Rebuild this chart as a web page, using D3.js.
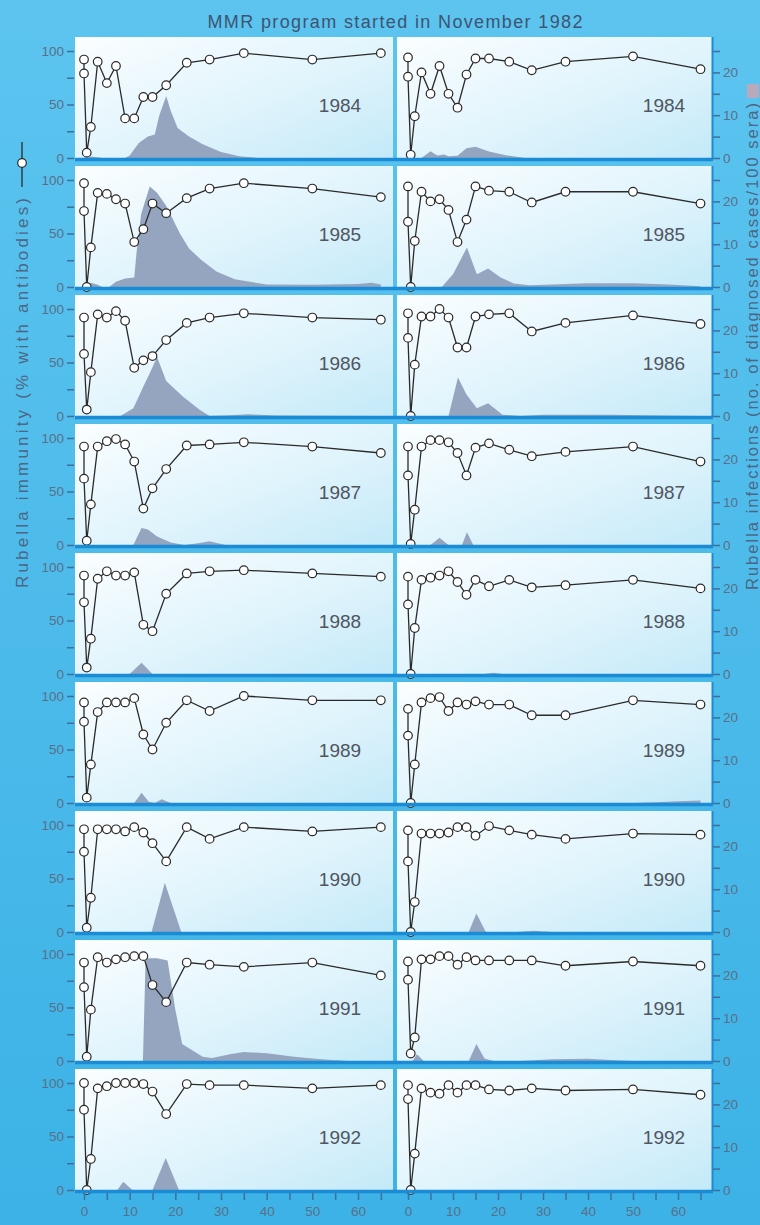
<!DOCTYPE html>
<html>
<head>
<meta charset="utf-8">
<script src="https://cdn.jsdelivr.net/npm/d3@7"></script>
<style>
body { margin: 0; background: #44b6e7; }
svg { display: block; }
text { font-family: "Liberation Sans", Arial, sans-serif; }
</style>
</head>
<body>
<svg width="760" height="1225"></svg>
<script>
// survey years, one row of panels each
const years = [1984, 1985, 1986, 1987, 1988, 1989, 1990, 1991, 1992];

// age (years) of each immunity point
const ages = [0, 0, 0.6, 1.5, 3, 5, 7, 9, 11, 13, 15, 18, 22.5, 27.5, 35, 50, 65];

// % with antibodies, left column
const immunityLeft = [
	[92, 79, 5, 29, 90, 70, 86, 37, 37, 57, 57, 68, 89, 92, 98, 92, 98],
	[97, 71, 0, 37, 88, 87, 82, 78, 42, 54, 78, 69, 83, 92, 97, 92, 84],
	[92, 58, 6, 41, 95, 92, 98, 89, 45, 52, 56, 71, 87, 92, 96, 92, 90],
	[92, 62, 4, 38, 92, 97, 99, 94, 78, 34, 53, 71, 93, 94, 96, 92, 86],
	[92, 67, 6, 33, 89, 96, 92, 92, 95, 46, 40, 75, 94, 96, 97, 94, 91],
	[94, 76, 5, 36, 85, 94, 94, 94, 98, 64, 50, 75, 96, 86, 100, 96, 96],
	[96, 75, 4, 32, 96, 96, 96, 94, 98, 93, 83, 66, 98, 87, 98, 94, 98],
	[92, 69, 4, 48, 97, 92, 95, 97, 98, 98, 71, 55, 92, 90, 88, 92, 80],
	[100, 75, 0, 29, 95, 97, 100, 100, 100, 99, 92, 71, 99, 98, 98, 95, 98]
];

// % with antibodies, right column
const immunityRight = [
	[94, 76, 3, 39, 80, 60, 86, 60, 47, 78, 93, 93, 90, 82, 90, 95, 83],
	[94, 61, 0, 43, 89, 80, 82, 72, 42, 63, 94, 90, 89, 79, 89, 89, 78],
	[96, 73, 0, 48, 93, 93, 100, 92, 64, 64, 93, 95, 96, 79, 87, 94, 86],
	[92, 65, 1, 33, 92, 98, 98, 96, 86, 65, 91, 95, 89, 83, 87, 92, 78],
	[91, 65, 0, 43, 88, 90, 92, 96, 86, 74, 88, 82, 88, 81, 83, 88, 80],
	[88, 63, 0, 36, 94, 98, 99, 86, 94, 92, 95, 92, 92, 82, 82, 96, 92],
	[95, 66, 0, 28, 92, 92, 92, 93, 98, 98, 90, 99, 95, 91, 87, 92, 91],
	[93, 76, 7, 22, 95, 95, 98, 98, 90, 97, 94, 94, 94, 94, 89, 93, 89],
	[98, 85, 0, 34, 95, 91, 90, 98, 91, 98, 98, 94, 93, 95, 93, 94, 89]
];

// infections (cases/100 sera) as [age, value], left column
const infectionLeft = [
	[[0,0],[0.5,0.4],[2,0.3],[4,0],[9,0],[10,0.6],[12,3.5],[14,5],[15.5,5.5],[16.5,10],[18,14.5],[19,11],[20.5,7],[23,5],[26,3.2],[30,1.4],[34,0.4],[38,0],[65,0]],
	[[0,0],[0.5,0.6],[1.5,1],[3,0.5],[4,0],[5.5,0],[7,1.2],[9,2],[11,2.2],[11.5,8],[12.5,17],[14.4,23.5],[16,22],[18,19],[21,12.5],[23,9],[25.5,6.5],[29,3.6],[33,1.8],[40,0.6],[50,0.5],[60,0.7],[63,1],[65,0.6]],
	[[0,0],[8,0],[10.8,1.8],[13,6.9],[14.4,10],[16,13.8],[18,8.2],[21.7,4.5],[25.4,1.4],[27.5,0],[32,0.2],[36,0.4],[42,0.1],[65,0]],
	[[0,0],[10.8,0],[12.6,4],[14,3.6],[16,2],[19,0.6],[22,0],[25,0.4],[27.5,0.9],[31,0],[65,0]],
	[[0,0],[10,0],[12.6,2.6],[15,0],[65,0]],
	[[0,0],[11,0],[12.6,2.4],[14.2,0.3],[15.5,0],[17,0.9],[19,0],[65,0]],
	[[0,0],[14.8,0],[17.7,11.5],[21.3,0],[65,0]],
	[[0,0],[12.9,0],[13.5,24],[16,24],[18.3,23.5],[20,12],[21.5,4],[23,3],[26,1],[28,0.7],[32,1.6],[35,2.1],[40,1.8],[46,1],[52,0.4],[58,0],[65,0]],
	[[0,0],[7.3,0],[8.6,1.9],[10.6,0],[15,0],[17.9,7.5],[20.8,0],[65,0]]
];

// infections (cases/100 sera) as [age, value], right column
const infectionRight = [
	[[0,0],[3,0],[5,1.6],[6.5,0.6],[8,0.8],[9,0.4],[11,0.5],[13,2.3],[15,2.6],[18,1.5],[22,0.6],[26,0],[65,0]],
	[[0,0],[7.5,0],[10,3],[13.1,9.2],[15.3,3],[17.8,4.3],[20.5,2.3],[23.5,0.8],[27,0.4],[32,0.6],[40,0.9],[50,0.9],[58,0.6],[65,0.2]],
	[[0,0],[9,0],[11.1,9],[13,5],[15.3,1.8],[17.8,3],[21,0.3],[25,0],[30,0.3],[45,0.3],[65,0]],
	[[0,0],[5,0],[7,1.7],[9,0],[12,0],[13.1,3],[14.5,0],[65,0]],
	[[0,0],[17,0],[19,0.3],[21,0],[65,0]],
	[[0,0],[50,0],[55,0.2],[60,0.4],[65,0.6]],
	[[0,0],[13.5,0],[15.2,4.3],[17.3,0],[24,0],[28,0.3],[32,0],[65,0]],
	[[0,0],[1,0],[2,1.6],[3.5,0],[13.5,0],[15.2,4],[17,0.6],[19,0],[25,0],[32,0.4],[40,0.5],[46,0.2],[50,0],[65,0]],
	[[0,0],[65,0]]
];

const immTicks = [0, 25, 50, 75, 100];
const immTickLabels = [0, 50, 100];
const infTicks = [0, 5, 10, 15, 20, 25];
const infTickLabels = [0, 10, 20];
const ageTicks = [0, 5, 10, 15, 20, 25, 30, 35, 40, 45, 50, 55, 60, 65];
const ageTickLabels = [0, 10, 20, 30, 40, 50, 60];

let svg = d3.select("svg"),
	width = +svg.attr("width"),
	height = +svg.attr("height");

const rowStep = 129, firstBase = 158, plotH = 107, panelTop = 121;
const blue = "#1b8bd5", tickCol = "#3f6f9c", labCol = "#5a6f88";

let defs = svg.append("defs");
let bg = defs.append("linearGradient").attr("id", "bg")
	.attr("x1", 0).attr("y1", 0).attr("x2", 0).attr("y2", 1);
bg.append("stop").attr("offset", 0).attr("stop-color", "#5cc4ef");
bg.append("stop").attr("offset", 1).attr("stop-color", "#3cb2e6");
let pg = defs.append("linearGradient").attr("id", "panel")
	.attr("x1", 0).attr("y1", 0).attr("x2", 1).attr("y2", 1);
pg.append("stop").attr("offset", 0).attr("stop-color", "#fbfeff");
pg.append("stop").attr("offset", 0.55).attr("stop-color", "#e0f4fc");
pg.append("stop").attr("offset", 1).attr("stop-color", "#c3e9f8");

svg.append("rect").attr("width", width).attr("height", height).attr("fill", "url(#bg)");

const cols = [
	{x0: 75, x1: 393, x: d3.scaleLinear().domain([0, 60]).range([84, 358]), imm: immunityLeft, inf: infectionLeft, yearX: 340},
	{x0: 397, x1: 712, x: d3.scaleLinear().domain([0, 60]).range([408, 678]), imm: immunityRight, inf: infectionRight, yearX: 664}
];

function styleAxis(g) {
	g.select(".domain").remove();
	g.selectAll(".tick line").attr("stroke", tickCol).attr("stroke-width", 1.5);
	g.selectAll(".tick text").attr("fill", labCol).attr("font-size", 13.5)
		.attr("font-family", "'Liberation Sans', Arial, sans-serif");
}

years.forEach((yr, i) => {
	const base = firstBase + i * rowStep;
	const yImm = d3.scaleLinear().domain([0, 100]).range([base, base - plotH]);
	const yInf = d3.scaleLinear().domain([0, 25]).range([base, base - plotH]);

	cols.forEach(c => {
		let g = svg.append("g").attr("class", "panel");
		g.append("rect")
			.attr("x", c.x0).attr("y", base - panelTop)
			.attr("width", c.x1 - c.x0).attr("height", panelTop + 2)
			.attr("fill", "url(#panel)");

		let area = d3.area()
			.x(d => c.x(d[0]))
			.y0(base)
			.y1(d => yInf(d[1]));
		g.append("path").datum(c.inf[i])
			.attr("d", area)
			.attr("fill", "#95a5c0");

		let pts = ages.map((a, k) => [a, c.imm[i][k]]);
		g.append("path").datum(pts)
			.attr("d", d3.line().x(d => c.x(d[0])).y(d => yImm(d[1])))
			.attr("fill", "none")
			.attr("stroke", "#2a2a2a")
			.attr("stroke-width", 1.3);
		g.selectAll("circle").data(pts).join("circle")
			.attr("cx", d => c.x(d[0]))
			.attr("cy", d => yImm(d[1]))
			.attr("r", 4.3)
			.attr("fill", "#fff")
			.attr("stroke", "#2a2a2a")
			.attr("stroke-width", 1.2);

		g.append("text")
			.attr("x", c.yearX).attr("y", base - 46)
			.attr("text-anchor", "middle")
			.attr("font-size", 19)
			.attr("fill", "#50555e")
			.text(yr);
	});

	// zero line along the bottom of the row
	svg.append("line")
		.attr("x1", 75).attr("x2", 713)
		.attr("y1", base + 1.5).attr("y2", base + 1.5)
		.attr("stroke", blue).attr("stroke-width", 3.5);
	// right edge of the right panel
	svg.append("line")
		.attr("x1", 712.5).attr("x2", 712.5)
		.attr("y1", base - panelTop).attr("y2", base)
		.attr("stroke", blue).attr("stroke-width", 2);

	svg.append("g")
		.attr("transform", "translate(74,0)")
		.call(d3.axisLeft(yImm).tickValues(immTicks)
			.tickFormat(d => immTickLabels.includes(d) ? d : "")
			.tickSize(7).tickPadding(3))
		.call(styleAxis);

	svg.append("g")
		.attr("transform", "translate(713,0)")
		.call(d3.axisRight(yInf).tickValues(infTicks)
			.tickFormat(d => infTickLabels.includes(d) ? d : "")
			.tickSize(7).tickPadding(3))
		.call(styleAxis);
});

// age axis under the last row
const lastBase = firstBase + (years.length - 1) * rowStep;
cols.forEach(c => {
	svg.append("g")
		.attr("transform", `translate(0,${lastBase + 3})`)
		.call(d3.axisBottom(c.x).tickValues(ageTicks)
			.tickFormat(d => ageTickLabels.includes(d) ? d : "")
			.tickSize(7).tickPadding(6))
		.call(styleAxis);
});

// title
svg.append("text")
	.attr("x", 395).attr("y", 28)
	.attr("text-anchor", "middle")
	.attr("font-size", 18)
	.attr("textLength", 375)
	.attr("fill", "#3d5472")
	.text("MMR program started in November 1982");

// left axis title with line/circle key
svg.append("text")
	.attr("transform", "translate(28,588) rotate(-90)")
	.attr("font-size", 17)
	.attr("textLength", 390)
	.attr("fill", "#4d6684")
	.text("Rubella immunity (% with antibodies)");
svg.append("line")
	.attr("x1", 22).attr("x2", 22).attr("y1", 142).attr("y2", 187)
	.attr("stroke", "#2a2a2a").attr("stroke-width", 1.3);
svg.append("circle")
	.attr("cx", 22).attr("cy", 163).attr("r", 4.3)
	.attr("fill", "#fff").attr("stroke", "#2a2a2a").attr("stroke-width", 1.2);

// right axis title with area key
svg.append("text")
	.attr("transform", "translate(758,590) rotate(-90)")
	.attr("font-size", 16.5)
	.attr("textLength", 487)
	.attr("fill", "#4d6684")
	.text("Rubella infections (no. of diagnosed cases/100 sera)");
svg.append("rect")
	.attr("x", 747).attr("y", 84).attr("width", 12).attr("height", 14)
	.attr("fill", "#b9aabb");
</script>
</body>
</html>
